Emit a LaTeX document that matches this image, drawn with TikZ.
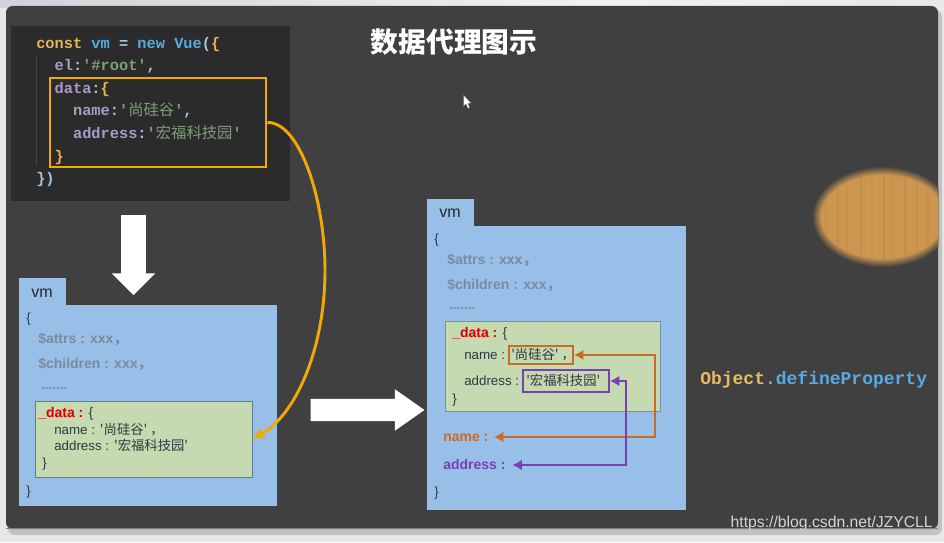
\documentclass[tikz,border=0pt]{standalone}
\usepackage{fontspec}
\usepackage{xcolor}
\usepackage{tikz}
\usetikzlibrary{positioning,calc,matrix,fit,shapes.arrows,arrows.meta}
\setmainfont{Liberation Sans}
\setmonofont{Liberation Mono}
\newfontfamily\cjk{Noto Sans CJK SC}
\newcommand{\zh}[1]{{\cjk #1}}
\definecolor{slidebg}{HTML}{404040}
\definecolor{codebg}{HTML}{2B2B2B}
\definecolor{vmblue}{HTML}{98BFE8}
\definecolor{datagreen}{HTML}{C5DAB0}
\definecolor{dataedge}{HTML}{5F7F92}
\definecolor{linkorange}{HTML}{F2A900}
\definecolor{nameorange}{HTML}{C96A26}
\definecolor{addrpurple}{HTML}{7A3FB5}
\definecolor{greytext}{HTML}{7C8A9E}
\definecolor{inktext}{HTML}{2E3A40}
\definecolor{wood}{HTML}{CB9650}
\definecolor{wooddark}{HTML}{A87A3A}
\definecolor{ckey}{HTML}{E6B450}
\definecolor{cblue}{HTML}{56ABE2}
\definecolor{cprop}{HTML}{A79BC8}
\definecolor{cstr}{HTML}{7D9F78}
\definecolor{cplain}{HTML}{A8C4DC}
\newcommand{\cK}[1]{\textcolor{ckey}{#1}}
\newcommand{\cB}[1]{\textcolor{cblue}{#1}}
\newcommand{\cP}[1]{\textcolor{cprop}{#1}}
\newcommand{\cS}[1]{\textcolor{cstr}{#1}}
\newcommand{\cL}[1]{\textcolor{cplain}{#1}}
\begin{document}
\begin{tikzpicture}[x=0.75pt,y=-0.75pt,>=latex]
	
	\tikzset{
		vmbox/.style={fill=vmblue, inner sep=0pt},
		databox/.style={fill=datagreen, draw=dataedge, semithick, inner sep=0pt},
		vmtext/.style={anchor=west, inner sep=0pt, font=\fontsize{10}{12}\selectfont, text=inktext, text height=7pt, text depth=0pt},
		greyline/.style={anchor=west, inner sep=0pt, font=\fontsize{10.5}{12}\selectfont\bfseries, text=greytext, text height=7pt, text depth=0pt},
		dotline/.style={greyline, font=\fontsize{10}{12}\selectfont\bfseries},
		keyline/.style={vmtext, font=\fontsize{10.5}{12}\selectfont},
		tabname/.style={font=\fontsize{12}{14}\selectfont, text=black!85, inner sep=0pt},
		link/.style={draw=linkorange, line width=2.2pt, >={Latex[length=9pt,width=9pt]}},
		namelink/.style={draw=nameorange, line width=1.7pt, >={Latex[length=7pt,width=8pt]}},
		addrlink/.style={draw=addrpurple, line width=1.5pt, >={Latex[length=7pt,width=8pt]}},
		bigarrow/.style={single arrow, fill=white, inner xsep=0pt}
	}
	
	\useasboundingbox (0,0) rectangle (944,542);
	
	% ===== BACKGROUND AND SLIDE =====
	\fill[black!9] (0,0) rectangle (944,542);
	\shade[left color=blue!20!black!18, right color=orange!22!black!6] (0,0) rectangle (600,8);
	\shade[left color=orange!22!black!6, right color=black!9] (600,0) rectangle (944,8);
	\fill[black!24, rounded corners=5pt] (8,10) rectangle (942,535);
	\fill[slidebg, rounded corners=5pt] (6,6) rectangle (938,529);
	\draw[black!50, line width=0.8pt] (6,528.5) -- (938,528.5);
	
	% ===== WOOD PATCH =====
	\begin{scope}
		\clip (700,150) rectangle (938,290);
		\foreach \d in {0,1,...,10} {
			\pgfmathtruncatemacro{\m}{9*\d+10}
			\fill[wood!\m!slidebg] (883,217) ellipse [x radius={70-\d*0.8}, y radius={50-\d*0.8}];
		}
		\clip (883,217) ellipse [x radius=62, y radius=42];
		\foreach \x/\o in {826/15,838/25,847/12,861/22,872/15,884/28,893/12,905/22,917/15,928/20} {
			\draw[wooddark, opacity=0.\o, line width=1pt] (\x,170) -- (\x,265);
		}
	\end{scope}
	
	% ===== TITLE AND POINTER =====
	\node[font=\cjk\fontsize{20.8}{24}\selectfont\bfseries, text=white, inner sep=0pt] (title) at (454,42) {数据代理图示};
	\fill[white, draw=black!60, line width=0.2pt] (463.5,95) -- (463.5,106) -- (466,104) -- (468,108.5) -- (469.5,107.5) -- (468,103.5) -- (471,103) -- cycle;
	
	% ===== CODE BLOCK =====
	\node[fill=codebg, inner sep=0pt, fit={(11,26) (290,201)}] (codepanel) {};
	\draw[white!12!codebg, line width=0.5pt] (36,55) -- (36,166);
	\matrix (code) [
	matrix of nodes,
	inner sep=0pt,
	row sep=4.45pt,
	nodes={
		anchor=west,
		font=\ttfamily\bfseries\fontsize{11.5}{12}\selectfont,
		inner sep=0pt,
		text height=10pt, text depth=2.5pt
	},
	anchor=north west
	] at (36,34.5) {
		\cK{const} \cB{vm} \cL{=} \cB{new} \cB{Vue}\cL{(}\cK{\{} \\
		\hspace*{13.8pt}\cP{el}\cL{:}\cS{'\#root'}\cL{,} \\
		\hspace*{13.8pt}\cP{data}\cL{:}\cK{\{} \\
		\hspace*{27.6pt}\cP{name}\cL{:}\cS{'\zh{\mdseries 尚硅谷}'}\cL{,} \\
		\hspace*{27.6pt}\cP{address}\cL{:}\cS{'\zh{\mdseries 宏福科技园}'} \\
		\hspace*{13.8pt}\cK{\}} \\
		\cL{\})} \\
	};
	\node[draw=linkorange, line width=2.2pt, inner sep=0pt, fit={(50,78) (266,167)}] (codedata) {};
	
	% ===== LEFT vm =====
	\node[vmbox, fit={(19,278) (66,306)}] (ltab) {};
	\node[vmbox, fit={(19,305) (277,506)}] (lbody) {};
	\node[tabname] (lname) at (42,293) {vm};
	\node[vmtext] (lopen) at (26,318) {\{};
	\node[greyline] (lattrs) at (38,339) {\$attrs : xxx\zh{，}};
	\node[greyline] (lchildren) at (38,364) {\$children : xxx\zh{，}};
	\node[dotline] (ldots) at (41,384.4) {.......};
	\node[databox, fit={(35,401) (252,477)}] (ldata) {};
	\node[keyline] (ldatakey) at (38,413) {\textcolor{red!85!black}{\textbf{\_data :}} \{};
	\node[vmtext] (lnameline) at (54,430) {name : \zh{'尚硅谷' ，}};
	\node[vmtext] (laddrline) at (54,446) {address : \zh{'宏福科技园'}};
	\node[vmtext] (lclose) at (42,463) {\}};
	\node[vmtext] (lend) at (26,491) {\}};
	
	% ===== RIGHT vm =====
	\node[vmbox, fit={(427,199) (474,227)}] (rtab) {};
	\node[vmbox, fit={(427,226) (686,510)}] (rbody) {};
	\node[tabname] (rname) at (450,213) {vm};
	\node[vmtext] (ropen) at (434,239) {\{};
	\node[greyline] (rattrs) at (447,260) {\$attrs : xxx\zh{，}};
	\node[greyline] (rchildren) at (447,285) {\$children : xxx\zh{，}};
	\node[dotline] (rdots) at (449,304.7) {.......};
	\node[databox, draw=dataedge!70!vmblue, fit={(445,321) (660,411)}] (rdata) {};
	\node[keyline] (rdatakey) at (452,333) {\textcolor{red!85!black}{\textbf{\_data :}} \{};
	\node[vmtext] (rnameline) at (464,355) {name :};
	\node[vmtext] (raddrline) at (464,381) {address :};
	\node[vmtext] (rclose) at (452,399) {\}};
	\node[vmtext] (namevalue) at (511,355) {\zh{'尚硅谷' ，}};
	\node[vmtext] (addrvalue) at (526,381) {\zh{'宏福科技园'}};
	\node[draw=nameorange, line width=1.7pt, inner sep=0pt, fit={(509,346) (573,364)}] (namebox) {};
	\node[draw=addrpurple, line width=1.5pt, inner sep=0pt, fit={(523,370) (609,392)}] (addrbox) {};
	\node[keyline, font=\fontsize{10.5}{12}\selectfont\bfseries, text=nameorange] (proxyname) at (443,437) {name :};
	\node[keyline, font=\fontsize{10.5}{12}\selectfont\bfseries, text=addrpurple] (proxyaddr) at (443,465) {address :};
	\node[vmtext] (rend) at (434,492) {\}};
	
	% ===== BIG WHITE ARROWS =====
	\node[bigarrow, rotate=-90, inner ysep=9pt, minimum width=41*0.75pt, minimum height=80*0.75pt] (downarrow) at (133.5,249) {};
	\node[bigarrow, inner ysep=8.2pt, minimum width=41*0.75pt, minimum height=114*0.75pt, single arrow tip angle=70] (rightarrow) at (359.5,410) {};
	
	% ===== CONNECTORS =====
	\coordinate (bend) at (325,270);
	\draw[link,->] (codedata.east) .. controls (300,122) and (325,200) .. (bend)
	.. controls (325,350) and (295,415) .. (ldata.east);
	
	\coordinate (nametrack) at (655,400);
	\draw[namelink,<->] (namebox.east) -| (nametrack) |- ([xshift=4pt]proxyname.east);
	
	\coordinate (addrtrack) at (626,420);
	\draw[addrlink,<->] (addrbox.east) -| (addrtrack) |- ([xshift=5pt]proxyaddr.east);
	
	% ===== RIGHT LABEL AND WATERMARK =====
	\node[anchor=west, inner sep=0pt, font=\ttfamily\bfseries\fontsize{13.5}{16}\selectfont] (defprop) at (700,380)
	{\textcolor{ckey!90!white}{Object}\textcolor{black!35}{.}\textcolor{cblue}{defineProperty}};
	\node[anchor=east, inner sep=0pt, font=\fontsize{11.8}{14}\selectfont, text=black!17] (mark) at (933,523) {https://blog.csdn.net/JZYCLL};
	
\end{tikzpicture}
\end{document}
